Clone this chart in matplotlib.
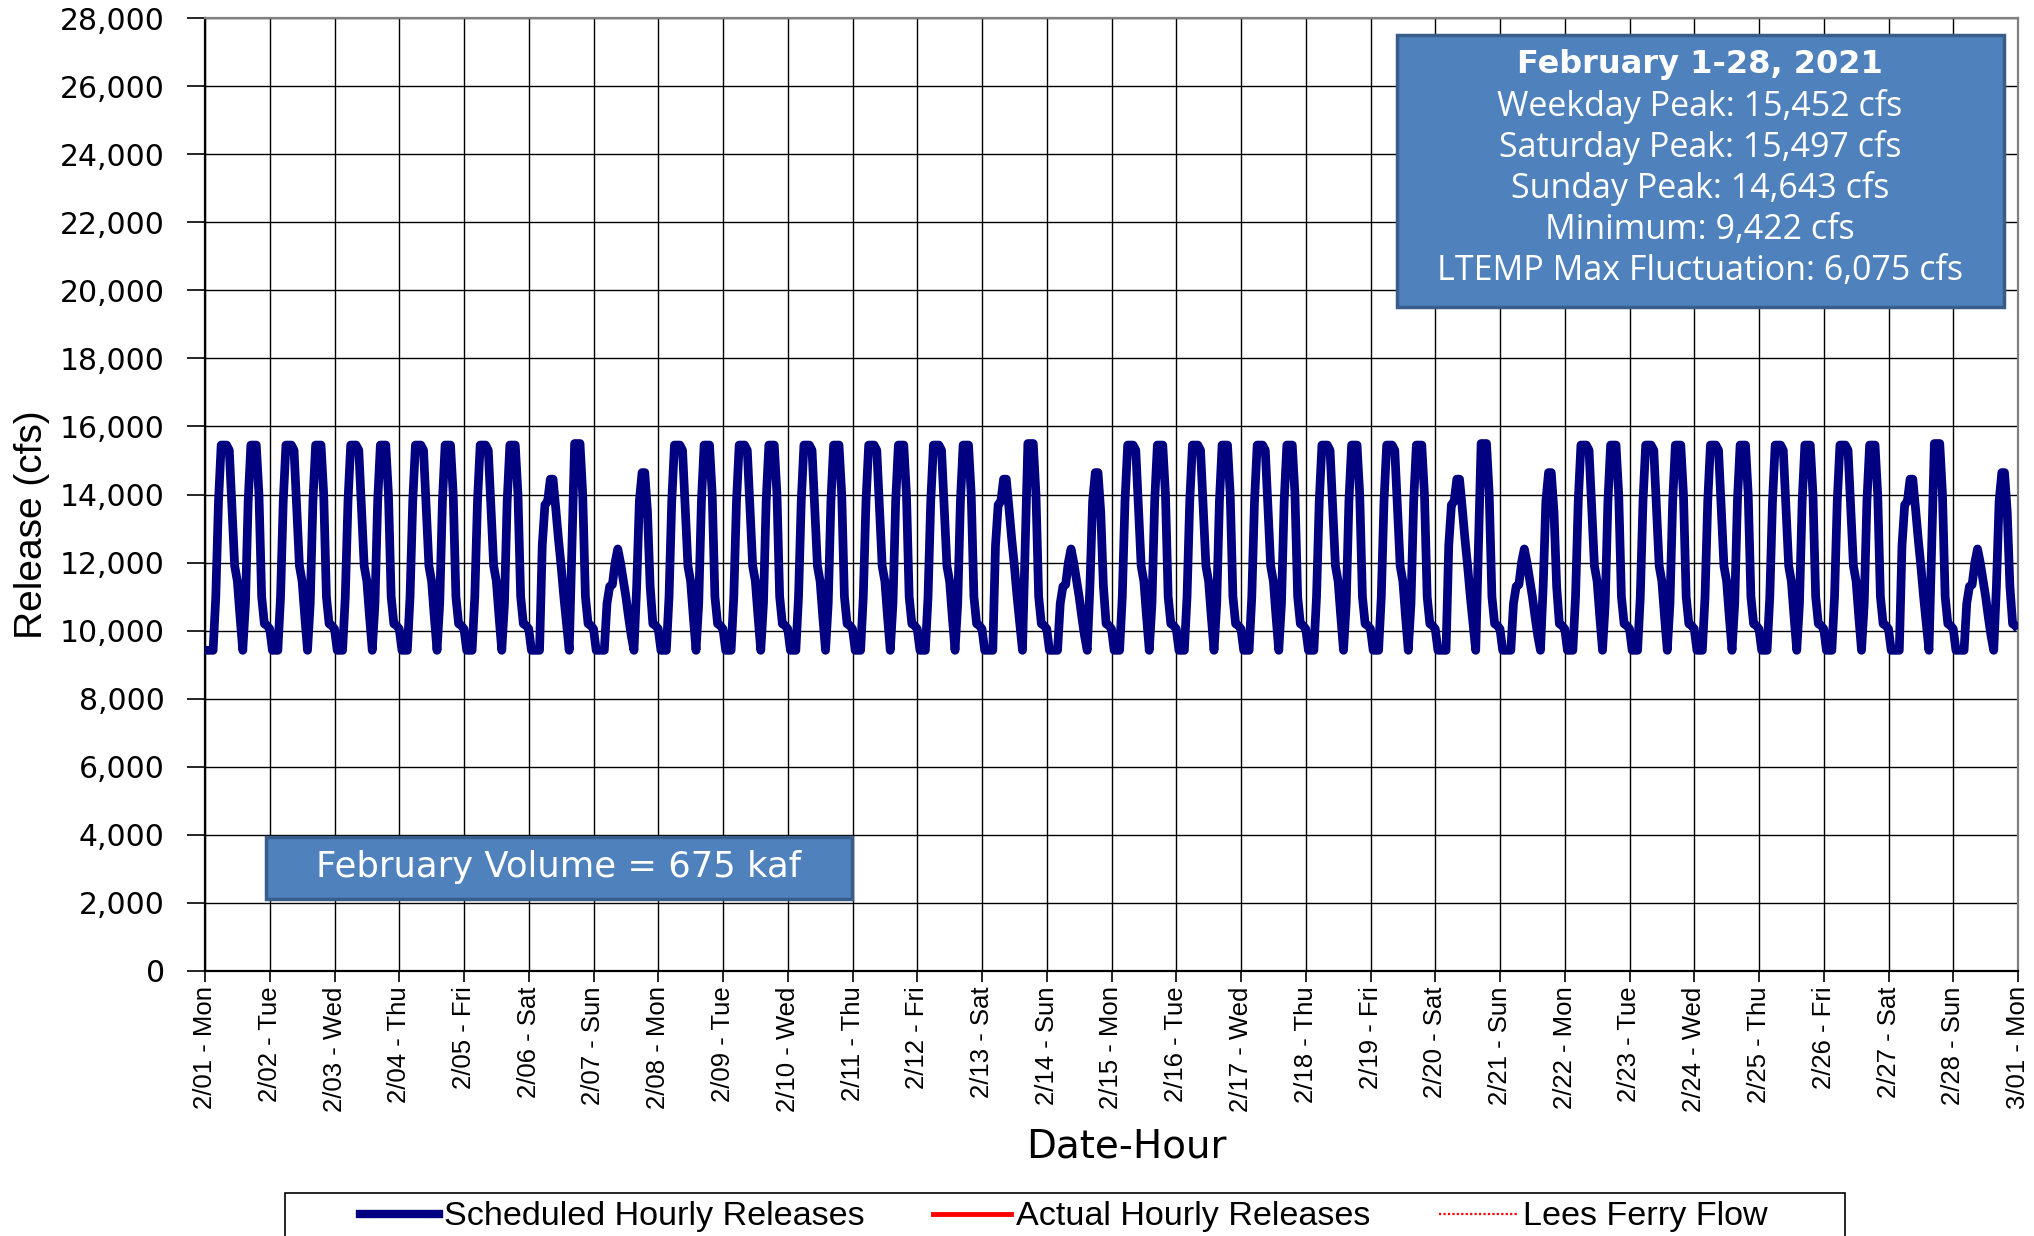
import numpy as np
import matplotlib.pyplot as plt
from matplotlib.patches import Rectangle
from matplotlib.lines import Line2D

# ------------------------------------------------------------
# Hourly scheduled releases (cfs), hour 0..23
# ------------------------------------------------------------
weekday_cfs = [10050, 9422, 9422, 9422, 11000, 13800, 15452, 15452, 15452, 15300,
               13600, 11900, 11450, 10400, 9422, 10800, 13800, 15452, 15452, 15452,
               14000, 11000, 10200, 10150]
saturday_cfs = [10050, 9422, 9422, 9422, 9422, 12500, 13700, 13800, 14450, 14450,
                13600, 12700, 11900, 11000, 10200, 9422, 12500, 15497, 15497, 15497,
                14000, 11000, 10200, 10150]
sunday_cfs = [10050, 9422, 9422, 9422, 9422, 10800, 11300, 11350, 12000, 12400,
              12000, 11500, 11000, 10400, 9850, 9422, 11300, 13800, 14643, 14643,
              13500, 11300, 10200, 10150]
first_hour_cfs = 9422      # 2/01 00:00
last_hour_cfs = 10050      # 3/01 00:00

day_labels = ['2/01 - Mon', '2/02 - Tue', '2/03 - Wed', '2/04 - Thu', '2/05 - Fri',
              '2/06 - Sat', '2/07 - Sun', '2/08 - Mon', '2/09 - Tue', '2/10 - Wed',
              '2/11 - Thu', '2/12 - Fri', '2/13 - Sat', '2/14 - Sun', '2/15 - Mon',
              '2/16 - Tue', '2/17 - Wed', '2/18 - Thu', '2/19 - Fri', '2/20 - Sat',
              '2/21 - Sun', '2/22 - Mon', '2/23 - Tue', '2/24 - Wed', '2/25 - Thu',
              '2/26 - Fri', '2/27 - Sat', '2/28 - Sun', '3/01 - Mon']

info_title = 'February 1-28, 2021'
info_lines = ['Weekday Peak: 15,452 cfs', 'Saturday Peak: 15,497 cfs',
              'Sunday Peak: 14,643 cfs', 'Minimum: 9,422 cfs',
              'LTEMP Max Fluctuation: 6,075 cfs']
volume_text = 'February Volume = 675 kaf'

# build the hourly series from the day profiles
series = []
for lab in day_labels[:-1]:
    dow = lab.split(' - ')[1]
    if dow == 'Sat':
        series += saturday_cfs
    elif dow == 'Sun':
        series += sunday_cfs
    else:
        series += weekday_cfs
series[0] = first_hour_cfs
series.append(last_hour_cfs)
series = np.array(series, dtype=float)
days = np.arange(len(series)) / 24.0

# ------------------------------------------------------------
# Figure
# ------------------------------------------------------------
W, H = 2034, 1236
fig = plt.figure(figsize=(W / 100, H / 100), dpi=100)

def fx(px):
    return px / W

def fy(py):
    return 1 - py / H

ax = fig.add_axes([fx(205), fy(971), fx(2018) - fx(205), fy(18) - fy(971)])

ax.plot(days, series, color='#000080', lw=6.3, solid_joinstyle='round',
        solid_capstyle='butt', zorder=3)

ax.set_xlim(0, 28)
ax.set_ylim(0, 28000)
ax.set_xticks(np.arange(len(day_labels)))
ax.set_xticklabels(day_labels, rotation=90, fontsize=18.5, family='Liberation Sans')
ax.set_yticks(np.arange(0, 28001, 2000))
ax.set_yticklabels([f'{v:,}' for v in range(0, 28001, 2000)], fontsize=21.5,
                   family='DejaVu Sans')
ax.tick_params(axis='y', length=13, width=1.2, pad=16, colors='black')
ax.tick_params(axis='x', length=8, width=1.2, pad=3, colors='black')
ax.grid(True, color='black', lw=1.0, zorder=1)
ax.set_axisbelow(True)

for side in ['left', 'bottom']:
    ax.spines[side].set_color('black')
    ax.spines[side].set_linewidth(1.6)
for side in ['top', 'right']:
    ax.spines[side].set_color('#808080')
    ax.spines[side].set_linewidth(1.6)

fig.text(fx(32), fy(525), 'Release (cfs)', rotation=90, ha='center', va='center',
         fontsize=28, family='Liberation Sans')
fig.text(fx(1126), fy(1146), 'Date-Hour', ha='center', va='center',
         fontsize=28, family='DejaVu Sans')

# info box
fig.add_artist(Rectangle((fx(1397), fy(307)), fx(2004) - fx(1397), fy(35) - fy(307),
                         transform=fig.transFigure, facecolor='#4F81BD',
                         edgecolor='#385D8A', lw=2.5, zorder=5))
fig.text(fx(1700), fy(64), info_title, ha='center', va='center', color='white',
         fontsize=23, fontweight='bold', family='DejaVu Sans', zorder=6)
for i, line in enumerate(info_lines):
    fig.text(fx(1700), fy(106 + 41.3 * i), line, ha='center', va='center',
             color='white', fontsize=24.5, family='Open Sans', zorder=6)

# volume box
fig.add_artist(Rectangle((fx(266), fy(899)), fx(852) - fx(266), fy(837) - fy(899),
                         transform=fig.transFigure, facecolor='#4F81BD',
                         edgecolor='#385D8A', lw=2.5, zorder=5))
fig.text(fx(559), fy(867), volume_text, ha='center', va='center', color='white',
         fontsize=25.5, family='DejaVu Sans', zorder=6)

# legend
fig.add_artist(Rectangle((fx(285), fy(1260)), fx(1845) - fx(285), fy(1193) - fy(1260),
                         transform=fig.transFigure, facecolor='white',
                         edgecolor='black', lw=1.2, zorder=5))
handles = [Line2D([], [], color='#000080', lw=6),
           Line2D([], [], color='red', lw=3.5),
           Line2D([], [], color='red', lw=1.6, linestyle=(0, (1, 1)))]
labels = ['Scheduled Hourly Releases', 'Actual Hourly Releases', 'Lees Ferry Flow']
leg = fig.legend(handles, labels, loc='center left', bbox_to_anchor=(fx(360), fy(1217)),
                 ncol=3, frameon=False, handlelength=2.3, handletextpad=0.15,
                 columnspacing=2.0, borderpad=0, borderaxespad=0,
                 prop={'family': 'Liberation Sans', 'size': 24.6})
leg.set_zorder(6)

fig.savefig('out.png', dpi=100)
